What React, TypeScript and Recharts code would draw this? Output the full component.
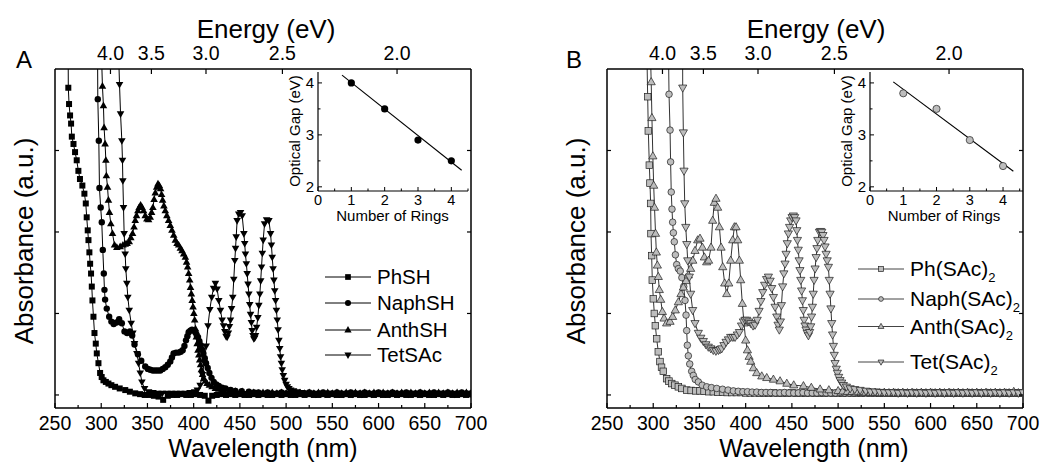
import React from 'react';
import { LineChart, Line, XAxis, YAxis } from 'recharts';

type Pt = [number, number];
type Shape = 'square' | 'circle' | 'up' | 'down';

const FONT = '"Liberation Sans", Arial, Helvetica, sans-serif';

// axis ticks
const wlTicks = [250, 275, 300, 325, 350, 375, 400, 425, 450, 475, 500, 525, 550, 575, 600, 625, 650, 675, 700];
const energyTicks = [4.0, 3.5, 3.0, 2.5, 2.0];
const absTicks = [0, 1, 2, 3];
const ringTicks = [0, 0.5, 1, 1.5, 2, 2.5, 3, 3.5, 4, 4.5];
const gapTicks = [2, 2.5, 3, 3.5, 4];

// ---- panel A spectra: [wavelength (nm), absorbance (a.u.)]
const phSH: Pt[] = [
  [264.2, 4.3], [264.4, 3.77], [265.2, 3.57], [266.3, 3.43], [267.4, 3.33], [268.2, 3.17], [270, 3.08], [271.7, 2.98],
  [273.5, 2.88], [275.3, 2.75], [277, 2.65], [279.6, 2.57], [281.8, 2.47], [283.3, 2.35], [284.3, 2.18], [285.4, 2.02],
  [286.2, 1.9], [287.2, 1.75], [288, 1.61], [289, 1.49], [289.8, 1.33], [290.5, 1.16], [291.6, 0.96], [292.7, 0.76],
  [294.1, 0.63], [295.2, 0.51], [297, 0.39], [298.8, 0.27], [300.5, 0.22], [302.4, 0.18], [305, 0.16], [307.8, 0.14],
  [311, 0.12], [315, 0.1], [320, 0.08], [326, 0.06], [331, 0.04], [336.8, 0.02], [342, 0.01], [347, 0], [352, 0],
  [357, -0.01], [362, -0.02], [367, -0.06], [372, -0.01], [377, 0], [382, 0], [387, 0.01], [392, 0], [397, 0],
  [402, 0.01], [407, 0], [412, -0.01], [416, -0.07], [420, -0.01], [425, 0], [430, 0.01], [435, 0], [440, 0.01],
  [445, 0], [450, 0.01], [455, 0], [460, 0], [465, 0.01], [470, 0], [475, 0.01], [480, 0], [485, 0], [490, 0.01],
  [495, 0], [500, 0.01], [505, 0], [510, 0], [515, 0.01], [520, 0], [525, 0.01], [530, 0], [535, 0], [540, 0.01],
  [545, 0], [550, 0.01], [555, 0], [560, 0], [565, 0.01], [570, 0], [575, 0.01], [580, 0], [585, 0], [590, 0.01],
  [595, 0], [600, 0.01], [605, 0], [610, 0], [615, 0.01], [620, 0], [625, 0.01], [630, 0], [635, 0], [640, 0.01],
  [645, 0], [650, 0.01], [655, 0], [660, 0], [665, 0.01], [670, 0], [675, 0.01], [680, 0], [685, 0], [690, 0.01],
  [695, 0], [700, 0.01],
];

const naphSH: Pt[] = [
  [296, 4.3], [296.3, 3.63], [297.4, 3.12], [298.1, 2.54], [299.4, 2.3], [300.6, 2.12], [301.7, 1.78], [302.8, 1.49],
  [303.5, 1.29], [304.2, 1.17], [306, 1.06], [308.6, 0.96], [311, 0.9], [313.5, 0.87], [316.5, 0.89], [319.4, 0.93],
  [322.3, 0.88], [325.2, 0.78], [328, 0.76], [331, 0.78], [333.5, 0.73], [336, 0.62], [339.7, 0.5], [343.3, 0.42],
  [347.6, 0.35], [350.5, 0.32], [353, 0.31], [355.8, 0.3], [358.5, 0.3], [361.2, 0.3], [363.9, 0.3], [366.5, 0.32],
  [369.3, 0.34], [372, 0.37], [374.7, 0.41], [376.5, 0.46], [378.3, 0.51], [381, 0.52], [383.8, 0.52], [386, 0.53],
  [388.1, 0.55], [390, 0.6], [391.7, 0.67], [393.2, 0.72], [394.6, 0.77], [396.4, 0.79], [398.2, 0.8], [400, 0.79],
  [401.8, 0.77], [403.2, 0.74], [404.7, 0.71], [406.2, 0.66], [407.6, 0.61], [409, 0.56], [410.5, 0.51], [412, 0.45],
  [413.4, 0.39], [415.2, 0.33], [417, 0.27], [419.3, 0.21], [421.7, 0.16], [424.5, 0.13], [427.2, 0.11], [430.8, 0.09],
  [434.4, 0.08], [440, 0.06], [445.2, 0.05], [452, 0.045], [459.7, 0.04], [465, 0.03], [470, 0.03], [475, 0.02],
  [480, 0.03], [485, 0.02], [490, 0.02], [495, 0.03], [500, 0.02], [505, 0.02], [510, 0.03], [515, 0.02], [520, 0.02],
  [525, 0.03], [530, 0.02], [535, 0.02], [540, 0.03], [545, 0.02], [550, 0.02], [555, 0.03], [560, 0.02], [565, 0.02],
  [570, 0.03], [575, 0.02], [580, 0.02], [585, 0.03], [590, 0.02], [595, 0.02], [600, 0.03], [605, 0.02], [610, 0.02],
  [615, 0.03], [620, 0.02], [625, 0.02], [630, 0.03], [635, 0.02], [640, 0.02], [645, 0.03], [650, 0.02], [655, 0.02],
  [660, 0.03], [665, 0.02], [670, 0.02], [675, 0.03], [680, 0.02], [685, 0.02], [690, 0.03], [695, 0.02], [700, 0.02],
];

const anthSH: Pt[] = [
  [300, 4.3], [301.3, 3.79], [302.4, 3.55], [303.1, 3.28], [304.2, 3.08], [305, 2.88], [305.6, 2.69], [306.8, 2.55],
  [307.8, 2.39], [308.9, 2.24], [310.4, 2.1], [312.2, 1.98], [314.4, 1.84], [316.9, 1.81], [320.5, 1.82], [323.5, 1.84],
  [325.9, 1.85], [328, 1.86], [330.3, 1.88], [332, 1.93], [333.9, 1.98], [335.5, 2.06], [336.8, 2.14], [338.2, 2.2],
  [339.7, 2.26], [341, 2.3], [342.6, 2.33], [344.2, 2.3], [345.8, 2.26], [347.6, 2.2], [349.4, 2.16], [351.2, 2.15],
  [353, 2.18], [354.5, 2.24], [355.9, 2.3], [357.2, 2.4], [358.5, 2.48], [360, 2.55], [361.4, 2.59], [362.8, 2.57],
  [364.2, 2.53], [365.3, 2.46], [366.4, 2.39], [367.8, 2.32], [369.3, 2.26], [371, 2.2], [372.9, 2.14], [374.7, 2.08],
  [376.5, 2.02], [378.4, 1.96], [380.2, 1.9], [382, 1.86], [383.8, 1.84], [385.6, 1.8], [387.4, 1.77], [389.2, 1.73],
  [391, 1.69], [392.3, 1.63], [393.5, 1.57], [394.6, 1.49], [395.7, 1.41], [396.6, 1.32], [397.5, 1.24], [398.4, 1.16],
  [399.3, 1.08], [400.2, 1], [401.1, 0.92], [402, 0.81], [402.9, 0.71], [403.8, 0.63], [404.7, 0.55], [405.6, 0.49],
  [406.5, 0.43], [407.5, 0.37], [408.4, 0.31], [409.6, 0.25], [410.9, 0.2], [412.7, 0.17], [414.5, 0.14], [417, 0.12],
  [419.9, 0.1], [423.5, 0.08], [427.2, 0.07], [432, 0.06], [438, 0.05], [445, 0.045], [452.5, 0.04], [460, 0.03],
  [465, 0.03], [470, 0.02], [475, 0.03], [480, 0.02], [485, 0.03], [490, 0.02], [495, 0.03], [500, 0.02], [505, 0.03],
  [510, 0.02], [515, 0.03], [520, 0.02], [525, 0.03], [530, 0.02], [535, 0.03], [540, 0.02], [545, 0.03], [550, 0.02],
  [555, 0.03], [560, 0.02], [565, 0.03], [570, 0.02], [575, 0.03], [580, 0.02], [585, 0.03], [590, 0.02], [595, 0.03],
  [600, 0.02], [605, 0.03], [610, 0.02], [615, 0.03], [620, 0.02], [625, 0.03], [630, 0.02], [635, 0.03], [640, 0.02],
  [645, 0.03], [650, 0.02], [655, 0.03], [660, 0.02], [665, 0.03], [670, 0.02], [675, 0.03], [680, 0.02], [685, 0.03],
  [690, 0.02], [695, 0.03], [700, 0.02],
];

const tetSAc: Pt[] = [
  [318.5, 4.3], [319.8, 3.81], [320.9, 3.45], [322.3, 3.12], [323, 2.88], [323.4, 2.63], [324.1, 2.3], [324.8, 1.98],
  [325.9, 1.73], [326.6, 1.55], [327.7, 1.37], [328.8, 1.2], [330.3, 1.04], [332.4, 0.88], [334.2, 0.76], [336, 0.63],
  [338.6, 0.51], [340.4, 0.39], [342.2, 0.27], [344, 0.16], [346.9, 0.08], [351.2, 0.04], [356, 0.03], [361, 0.02],
  [366, 0.02], [371, 0.02], [376, 0.02], [381, 0.02], [386, 0.02], [391, 0.02], [396, 0.03], [401, 0.04], [404, 0.06],
  [407, 0.12], [409.5, 0.25], [411.5, 0.4], [413.5, 0.6], [415.5, 0.85], [417.5, 1.05], [419.5, 1.2], [421.5, 1.31],
  [423.5, 1.37], [425.4, 1.3], [427.2, 1.16], [429, 1.04], [430.8, 0.92], [432.3, 0.85], [433.7, 0.78], [435, 0.72],
  [436.2, 0.71], [437.5, 0.76], [438.7, 0.84], [439.8, 0.92], [441, 1.06], [442.3, 1.2], [443.4, 1.42], [444.5, 1.65],
  [445.3, 1.8], [446, 1.94], [447, 2.14], [448.8, 2.22], [450.7, 2.24], [452.5, 2.2], [454.3, 1.98], [455.2, 1.86],
  [456, 1.73], [457, 1.61], [457.9, 1.49], [458.8, 1.36], [459.7, 1.24], [460.6, 1.11], [461.5, 0.99], [462.4, 0.89],
  [463.3, 0.79], [464.2, 0.73], [465.1, 0.69], [466, 0.7], [466.9, 0.73], [468.1, 0.83], [469.4, 0.95], [470.5, 1.1],
  [471.6, 1.24], [472.5, 1.4], [473.4, 1.57], [474.3, 1.74], [475.2, 1.9], [476.7, 2.1], [478.9, 2.15], [481.4, 2.14],
  [483.2, 1.98], [484.1, 1.84], [485, 1.69], [485.9, 1.55], [486.8, 1.41], [487.7, 1.28], [488.6, 1.16], [489.5, 1.04],
  [490.4, 0.92], [491.3, 0.8], [492.2, 0.67], [493.1, 0.57], [494, 0.47], [494.9, 0.39], [495.8, 0.31], [497, 0.24],
  [498.4, 0.18], [500, 0.13], [501.3, 0.1], [503, 0.08], [504.9, 0.06], [508, 0.05], [512, 0.04], [517, 0.03],
  [522, 0.02], [527, 0.02], [532, 0.01], [537, 0.02], [542, 0.01], [547, 0.02], [552, 0.01], [557, 0.02], [562, 0.01],
  [567, 0.02], [572, 0.01], [577, 0.02], [582, 0.01], [587, 0.02], [592, 0.01], [597, 0.02], [602, 0.01], [607, 0.02],
  [612, 0.01], [617, 0.02], [622, 0.01], [627, 0.02], [632, 0.01], [637, 0.02], [642, 0.01], [647, 0.02], [652, 0.01],
  [657, 0.02], [662, 0.01], [667, 0.02], [672, 0.01], [677, 0.02], [682, 0.01], [687, 0.02], [692, 0.01], [697, 0.02],
  [700, 0.01],
];

// ---- panel B spectra
const phSAc2: Pt[] = [
  [293, 4.3], [294, 3.66], [294.7, 3.24], [295.8, 2.82], [296.5, 2.6], [297.2, 2.35], [297.6, 1.98], [298.3, 1.71],
  [299, 1.41], [300.1, 1.18], [301.2, 1], [302.3, 0.85], [303.7, 0.69], [305.5, 0.53], [307.3, 0.41], [309, 0.34],
  [310.9, 0.29], [314.5, 0.2], [317, 0.17], [320, 0.14], [323.5, 0.12], [327.2, 0.1], [331, 0.08], [336.2, 0.06],
  [341, 0.055], [346, 0.05], [350.6, 0.05], [355, 0.045], [360, 0.04], [365, 0.04], [370, 0.035], [375, 0.035],
  [380, 0.03], [385, 0.03], [390, 0.03], [395, 0.03], [400, 0.025], [405, 0.025], [410, 0.025], [415, 0.02],
  [420, 0.02], [425, 0.02], [430, 0.025], [435, 0.02], [440, 0.02], [445, 0.02], [450, 0.025], [455, 0.02],
  [460, 0.02], [465, 0.02], [470, 0.025], [475, 0.02], [480, 0.02], [485, 0.02], [490, 0.025], [495, 0.02],
  [500, 0.02], [505, 0.02], [510, 0.025], [515, 0.02], [520, 0.02], [525, 0.02], [530, 0.025], [535, 0.02],
  [540, 0.02], [545, 0.02], [550, 0.025], [555, 0.02], [560, 0.02], [565, 0.02], [570, 0.025], [575, 0.02],
  [580, 0.02], [585, 0.02], [590, 0.025], [595, 0.02], [600, 0.02], [605, 0.02], [610, 0.025], [615, 0.02],
  [620, 0.02], [625, 0.02], [630, 0.025], [635, 0.02], [640, 0.02], [645, 0.02], [650, 0.025], [655, 0.02],
  [660, 0.02], [665, 0.02], [670, 0.025], [675, 0.02], [680, 0.02], [685, 0.02], [690, 0.025], [695, 0.02], [700, 0.02],
];

const naphSAc2: Pt[] = [
  [316.4, 4.3], [317.1, 3.69], [318.2, 3.25], [318.8, 2.86], [319.5, 2.49], [320.3, 2.28], [321, 2.12], [321.8, 1.99],
  [322.8, 1.88], [324, 1.72], [325.4, 1.6], [327.2, 1.55], [329.2, 1.52], [331, 1.44], [333, 1.33], [334.4, 1.16],
  [335.5, 0.98], [336.2, 0.79], [336.9, 0.61], [338, 0.48], [339.5, 0.38], [341.6, 0.29], [343.4, 0.24], [345.5, 0.19],
  [348.8, 0.16], [353, 0.12], [357.9, 0.1], [363, 0.09], [368.7, 0.08], [375, 0.07], [381, 0.06], [386.7, 0.05],
  [392, 0.045], [397, 0.04], [402, 0.04], [407, 0.035], [412, 0.035], [417, 0.03], [422, 0.03], [427, 0.03],
  [432, 0.025], [437, 0.025], [442, 0.03], [447, 0.025], [452, 0.025], [457, 0.025], [462, 0.03], [467, 0.025],
  [472, 0.025], [477, 0.025], [482, 0.03], [487, 0.025], [492, 0.025], [497, 0.025], [502, 0.03], [507, 0.025],
  [512, 0.025], [517, 0.025], [522, 0.03], [527, 0.025], [532, 0.025], [537, 0.025], [542, 0.03], [547, 0.025],
  [552, 0.025], [557, 0.025], [562, 0.03], [567, 0.025], [572, 0.025], [577, 0.025], [582, 0.03], [587, 0.025],
  [592, 0.025], [597, 0.025], [602, 0.03], [607, 0.025], [612, 0.025], [617, 0.025], [622, 0.03], [627, 0.025],
  [632, 0.025], [637, 0.025], [642, 0.03], [647, 0.025], [652, 0.025], [657, 0.025], [662, 0.03], [667, 0.025],
  [672, 0.025], [677, 0.025], [682, 0.03], [687, 0.025], [692, 0.025], [697, 0.025], [700, 0.03],
];

const anthSAc2: Pt[] = [
  [296.8, 4.3], [297.8, 3.84], [298.6, 3.4], [299.6, 2.93], [300.5, 2.57], [301.4, 2.3], [302.5, 1.98], [303.4, 1.75],
  [304.5, 1.59], [305.5, 1.45], [306.6, 1.29], [308.1, 1.17], [309.9, 1.02], [311.7, 0.94], [314.5, 0.88], [318.2, 0.9],
  [321, 0.96], [323.9, 1.04], [327.2, 1.14], [330, 1.24], [332.6, 1.32], [335.5, 1.4], [338, 1.47], [340.5, 1.55],
  [342.8, 1.65], [345.2, 1.77], [348.1, 1.9], [350.6, 1.92], [353.2, 1.81], [355.3, 1.69], [357.8, 1.63], [359.9, 1.65],
  [362.5, 1.81], [364.3, 2.14], [366.1, 2.36], [367.9, 2.41], [369.7, 2.3], [371.6, 2.06], [373.4, 1.81], [375.2, 1.57],
  [377.3, 1.37], [379.5, 1.24], [381.7, 1.37], [383.8, 1.65], [386, 1.9], [387.8, 2.06], [389.6, 2.06], [391.4, 1.9],
  [393.2, 1.65], [394.6, 1.41], [396.4, 1.12], [398.2, 0.88], [400, 0.67], [401.9, 0.55], [403.7, 0.47], [405.5, 0.41],
  [408.3, 0.33], [411.9, 0.27], [417.4, 0.23], [422.8, 0.21], [430, 0.19], [437.2, 0.17], [444.5, 0.14], [452, 0.12],
  [462.5, 0.11], [471, 0.09], [480.5, 0.07], [490, 0.06], [500, 0.05], [505, 0.045], [510, 0.04], [515, 0.04],
  [520, 0.035], [525, 0.035], [530, 0.03], [535, 0.03], [540, 0.03], [545, 0.025], [550, 0.03], [555, 0.025],
  [560, 0.03], [565, 0.025], [570, 0.03], [575, 0.025], [580, 0.03], [585, 0.025], [590, 0.03], [595, 0.025],
  [600, 0.03], [605, 0.025], [610, 0.03], [615, 0.025], [620, 0.03], [625, 0.025], [630, 0.03], [635, 0.025],
  [640, 0.03], [645, 0.025], [650, 0.03], [655, 0.025], [660, 0.03], [665, 0.025], [670, 0.03], [675, 0.025],
  [680, 0.03], [685, 0.025], [690, 0.04], [695, 0.025], [700, 0.03],
];

const tetSAc2: Pt[] = [
  [331.8, 4.3], [331.9, 3.77], [332.6, 3.22], [333.3, 2.75], [334.1, 2.35], [335.2, 2.06], [336.3, 1.85], [337.3, 1.65],
  [339.1, 1.45], [340.5, 1.24], [342.7, 1.04], [345.2, 0.88], [348.8, 0.76], [351.5, 0.7], [354.2, 0.66], [357, 0.62],
  [359.6, 0.59], [362.3, 0.57], [365, 0.55], [367.8, 0.54], [370.5, 0.55], [372.3, 0.56], [374.1, 0.57], [376.5, 0.61],
  [378.8, 0.65], [381.3, 0.68], [383.8, 0.71], [386.2, 0.71], [388.5, 0.71], [391, 0.74], [393.2, 0.77], [395.5, 0.85],
  [397.5, 0.9], [399.3, 0.92], [401.1, 0.92], [403.3, 0.9], [405.5, 0.88], [408, 0.85], [410.1, 0.86], [412.5, 0.92],
  [414.5, 1.03], [416.5, 1.15], [418.5, 1.26], [420.5, 1.35], [422.6, 1.42], [424.6, 1.45], [426.5, 1.4], [428.2, 1.31],
  [430, 1.2], [431.8, 1.08], [433.6, 0.96], [435, 0.86], [436.4, 0.8], [437.6, 0.9], [438.7, 1.1], [440, 1.33],
  [441.3, 1.49], [442.6, 1.61], [443.7, 1.73], [445, 1.86], [446.2, 1.98], [447.5, 2.06], [448.7, 2.14], [450.2, 2.18],
  [451.6, 2.2], [453, 2.18], [454.5, 2.14], [455.3, 2.02], [456, 1.9], [456.9, 1.78], [457.8, 1.65], [458.7, 1.53],
  [459.6, 1.41], [460.5, 1.28], [461.4, 1.16], [462.3, 1.04], [463.2, 0.92], [464.2, 0.85], [465.3, 0.8], [466.6, 0.76],
  [467.9, 0.73], [469.2, 0.77], [470.4, 0.84], [471.3, 0.96], [472.2, 1.08], [473.1, 1.24], [474, 1.41], [475.1, 1.55],
  [476.2, 1.69], [477.1, 1.8], [478, 1.9], [479.8, 2], [481, 2.01], [482.3, 2], [483.6, 1.96], [484.8, 1.9],
  [485.9, 1.82], [487, 1.73], [488.2, 1.65], [489.5, 1.57], [490.4, 1.41], [491.3, 1.24], [492.2, 1.06], [493.1, 0.88],
  [494, 0.74], [494.9, 0.6], [495.8, 0.49], [496.7, 0.39], [498, 0.32], [499.2, 0.27], [500.6, 0.22], [502.1, 0.18],
  [503.9, 0.15], [505.7, 0.12], [509, 0.1], [513, 0.08], [518, 0.07], [523.8, 0.06], [530, 0.05], [535, 0.04],
  [540, 0.04], [545, 0.035], [550, 0.03], [555, 0.03], [560, 0.03], [565, 0.025], [570, 0.03], [575, 0.025],
  [580, 0.03], [585, 0.025], [590, 0.03], [595, 0.025], [600, 0.03], [605, 0.025], [610, 0.03], [615, 0.025],
  [620, 0.03], [625, 0.025], [630, 0.03], [635, 0.025], [640, 0.03], [645, 0.025], [650, 0.03], [655, 0.025],
  [660, 0.03], [665, 0.025], [670, 0.03], [675, 0.025], [680, 0.03], [685, 0.025], [690, 0.03], [695, 0.025], [700, 0.03],
];

// ---- insets: optical gap (eV) vs number of rings
const rings = [1, 2, 3, 4];
const gapA = [4.0, 3.5, 2.9, 2.5];
const gapB = [3.8, 3.5, 2.9, 2.4];
const fitA: Pt[] = [[0.72, 4.15], [4.31, 2.32]];
const fitB: Pt[] = [[0.7, 4.02], [4.31, 2.3]];

type Look = {
  fill: string;
  stroke: string;
  sw: number;
  line: string;
  size: Record<Shape, number>;
};

const lookA: Look = {
  fill: '#000',
  stroke: '#000',
  sw: 0,
  line: '#000',
  size: { square: 6, circle: 6.4, up: 7.6, down: 7.6 },
};

const lookB: Look = {
  fill: '#bdbdbd',
  stroke: '#1e1e1e',
  sw: 0.7,
  line: '#333',
  size: { square: 6.6, circle: 6.6, up: 8.2, down: 8.2 },
};

type Series = { name: string; data: Pt[]; shape: Shape };

const seriesA: Series[] = [
  { name: 'PhSH', data: phSH, shape: 'square' },
  { name: 'NaphSH', data: naphSH, shape: 'circle' },
  { name: 'AnthSH', data: anthSH, shape: 'up' },
  { name: 'TetSAc', data: tetSAc, shape: 'down' },
];

const seriesB: Series[] = [
  { name: 'Ph(SAc)', data: phSAc2, shape: 'square' },
  { name: 'Naph(SAc)', data: naphSAc2, shape: 'circle' },
  { name: 'Anth(SAc)', data: anthSAc2, shape: 'up' },
  { name: 'Tet(SAc)', data: tetSAc2, shape: 'down' },
];

function marker(shape: Shape, cx: number, cy: number, size: number, fill: string, stroke: string, sw: number) {
  const h = size / 2;
  if (shape === 'square') {
    return <rect x={cx - h} y={cy - h} width={size} height={size} fill={fill} stroke={stroke} strokeWidth={sw} />;
  }
  if (shape === 'circle') {
    return <circle cx={cx} cy={cy} r={h} fill={fill} stroke={stroke} strokeWidth={sw} />;
  }
  const t = size * 0.87;
  const pts =
    shape === 'up'
      ? `${cx},${cy - t * 0.62} ${cx - h},${cy + t * 0.38} ${cx + h},${cy + t * 0.38}`
      : `${cx},${cy + t * 0.62} ${cx - h},${cy - t * 0.38} ${cx + h},${cy - t * 0.38}`;
  return <polygon points={pts} fill={fill} stroke={stroke} strokeWidth={sw} />;
}

const bottomTick = (p: any) => {
  const v = p.payload.value;
  const major = v % 50 === 0;
  return (
    <g>
      <line x1={p.x} x2={p.x} y1={p.y} y2={p.y - (major ? 5 : 3)} stroke="#000" strokeWidth={1.2} />
      {major && (
        <text x={p.x} y={p.y + 22} textAnchor="middle" fontSize={19.5} fontFamily={FONT} fill="#000">
          {v}
        </text>
      )}
    </g>
  );
};

const topTick = (p: any) => {
  const e = 1240 / p.payload.value;
  return (
    <g>
      <line x1={p.x} x2={p.x} y1={p.y} y2={p.y + 5} stroke="#000" strokeWidth={1.2} />
      <text x={p.x} y={p.y - 9} textAnchor="middle" fontSize={19.5} fontFamily={FONT} fill="#000">
        {e.toFixed(1)}
      </text>
    </g>
  );
};

const leftTick = (p: any) => <line x1={p.x} x2={p.x + 4} y1={p.y} y2={p.y} stroke="#000" strokeWidth={1.2} />;
const rightTick = (p: any) => <line x1={p.x} x2={p.x - 4} y1={p.y} y2={p.y} stroke="#000" strokeWidth={1.2} />;

const insetBottomTick = (p: any) => {
  const v = p.payload.value;
  const major = Number.isInteger(v);
  return (
    <g>
      <line x1={p.x} x2={p.x} y1={p.y} y2={p.y - (major ? 4 : 2.5)} stroke="#000" strokeWidth={1} />
      {major && (
        <text x={p.x} y={p.y + 13.5} textAnchor="middle" fontSize={14.5} fontFamily={FONT} fill="#000">
          {v}
        </text>
      )}
    </g>
  );
};

const insetLeftTick = (p: any) => {
  const v = p.payload.value;
  const major = Number.isInteger(v);
  return (
    <g>
      <line x1={p.x} x2={p.x + (major ? 4 : 2.5)} y1={p.y} y2={p.y} stroke="#000" strokeWidth={1} />
      {major && (
        <text x={p.x - 4} y={p.y + 5.5} textAnchor="end" fontSize={15} fontFamily={FONT} fill="#000">
          {v}
        </text>
      )}
    </g>
  );
};

const axisStroke = { stroke: '#000', strokeWidth: 1.5 };

function SpectrumPanel({ left, width, series, look }: { left: number; width: number; series: Series[]; look: Look }) {
  return (
    <div style={{ position: 'absolute', left, top: 0 }}>
      <LineChart width={width} height={463} margin={{ top: 39, right: width - 481, bottom: 25, left: 45 }}>
        <XAxis
          xAxisId="bottom"
          type="number"
          dataKey="wl"
          domain={[250, 700]}
          allowDataOverflow
          ticks={wlTicks}
          interval={0}
          height={30}
          tickSize={0}
          tickMargin={0}
          tickLine={false}
          tick={bottomTick}
          axisLine={axisStroke}
        />
        <XAxis
          xAxisId="top"
          orientation="top"
          type="number"
          dataKey="wl"
          domain={[250, 700]}
          allowDataOverflow
          ticks={energyTicks.map((e) => 1240 / e)}
          interval={0}
          height={30}
          tickSize={0}
          tickMargin={0}
          tickLine={false}
          tick={topTick}
          axisLine={axisStroke}
        />
        <YAxis
          yAxisId="left"
          domain={[-0.16, 4]}
          allowDataOverflow
          ticks={absTicks}
          interval={0}
          width={10}
          tickSize={0}
          tickMargin={0}
          tickLine={false}
          tick={leftTick}
          axisLine={axisStroke}
        />
        <YAxis
          yAxisId="right"
          orientation="right"
          domain={[-0.16, 4]}
          allowDataOverflow
          ticks={absTicks}
          interval={0}
          width={10}
          tickSize={0}
          tickMargin={0}
          tickLine={false}
          tick={rightTick}
          axisLine={axisStroke}
        />
        {/* the energy scale shares the wavelength data; this copy is invisible */}
        <Line
          xAxisId="top"
          yAxisId="right"
          data={series[0].data.map(([wl, a]) => ({ wl, a }))}
          dataKey="a"
          stroke="none"
          dot={false}
          activeDot={false}
          isAnimationActive={false}
        />
        {series.map((s) => (
          <Line
            key={s.name}
            xAxisId="bottom"
            yAxisId="left"
            data={s.data.map(([wl, a]) => ({ wl, a }))}
            dataKey="a"
            stroke={look.line}
            strokeWidth={1}
            isAnimationActive={false}
            activeDot={false}
            dot={(p: any) => (
              <g key={`${s.name}-${p.index}`}>
                {p.value > 4 || p.cx == null
                  ? null
                  : marker(s.shape, p.cx, p.cy, look.size[s.shape], look.fill, look.stroke, look.sw)}
              </g>
            )}
          />
        ))}
      </LineChart>
    </div>
  );
}

function GapInset({
  left,
  rightPad,
  xMax,
  gap,
  fit,
  look,
}: {
  left: number;
  rightPad: number;
  xMax: number;
  gap: number[];
  fit: Pt[];
  look: Look;
}) {
  const pts = rings.map((r, i) => ({ x: r, y: gap[i] }));
  const fitRows = fit.map(([x, y]) => ({ x, y }));
  const frame = { stroke: '#000', strokeWidth: 1.2 };
  return (
    <div style={{ position: 'absolute', left, top: 50 }}>
      <LineChart width={210} height={180} margin={{ top: 22, right: rightPad, bottom: 9, left: 18 }}>
        <XAxis
          xAxisId="b"
          type="number"
          dataKey="x"
          domain={[0, xMax]}
          allowDataOverflow
          ticks={ringTicks}
          interval={0}
          height={30}
          tickSize={0}
          tickMargin={0}
          tickLine={false}
          tick={insetBottomTick}
          axisLine={frame}
        />
        <XAxis xAxisId="t" orientation="top" type="number" domain={[0, xMax]} allowDataOverflow height={0} tick={false} tickLine={false} axisLine={frame} />
        <YAxis
          yAxisId="l"
          domain={[1.92, 4.21]}
          allowDataOverflow
          ticks={gapTicks}
          interval={0}
          width={30}
          tickSize={0}
          tickMargin={0}
          tickLine={false}
          tick={insetLeftTick}
          axisLine={frame}
        />
        <YAxis yAxisId="r" orientation="right" domain={[1.92, 4.21]} allowDataOverflow width={0} tick={false} tickLine={false} axisLine={frame} />
        <Line xAxisId="b" yAxisId="l" data={fitRows} dataKey="y" stroke="#000" strokeWidth={1.1} dot={false} activeDot={false} isAnimationActive={false} />
        <Line
          xAxisId="b"
          yAxisId="l"
          data={pts}
          dataKey="y"
          stroke="none"
          activeDot={false}
          isAnimationActive={false}
          dot={(p: any) => (
            <circle key={`g-${p.index}`} cx={p.cx} cy={p.cy} r={3.6} fill={look.fill} stroke={look.stroke} strokeWidth={look.sw || 0} />
          )}
        />
      </LineChart>
    </div>
  );
}

function Legend({ x, rows, series, look, fontSize, sub }: { x: number; rows: number[]; series: Series[]; look: Look; fontSize: number; sub: boolean }) {
  return (
    <g>
      {series.map((s, i) => {
        const y = rows[i];
        const sz = look.size[s.shape] * (sub ? 0.72 : 0.95);
        return (
          <g key={s.name}>
            <line x1={x} x2={x + 46} y1={y} y2={y} stroke={sub ? '#444' : '#000'} strokeWidth={1} />
            {marker(s.shape, x + 23, y, sz, look.fill, look.stroke, look.sw)}
            <text x={x + 52} y={y + 7.3} fontSize={fontSize} fontFamily={FONT} fill="#000">
              {s.name}
              {sub && (
                <tspan fontSize={13} dy={6}>
                  2
                </tspan>
              )}
            </text>
          </g>
        );
      })}
    </g>
  );
}

export default function App() {
  const title = { fontFamily: FONT, fill: '#000' };
  return (
    <div style={{ position: 'absolute', left: 0, top: 0, width: 1042, height: 463, overflow: 'hidden', background: '#fff' }}>
      <SpectrumPanel left={0} width={520} series={seriesA} look={lookA} />
      <SpectrumPanel left={552} width={490} series={seriesB} look={lookB} />
      <GapInset left={270} rightPad={12} xMax={4.5} gap={gapA} fit={fitA} look={lookA} />
      <GapInset left={822} rightPad={9} xMax={4.6} gap={gapB} fit={fitB} look={lookB} />
      <svg width={1042} height={463} style={{ position: 'absolute', left: 0, top: 0, pointerEvents: 'none' }}>
        {/* panel A text */}
        <text x={16} y={68} fontSize={24} {...title}>A</text>
        <text x={266} y={38} fontSize={26} textAnchor="middle" {...title}>Energy (eV)</text>
        <text x={263} y={457} fontSize={25} textAnchor="middle" {...title}>Wavelength (nm)</text>
        <text transform="translate(33,241) rotate(-90)" fontSize={26} textAnchor="middle" {...title}>Absorbance (a.u.)</text>
        <text transform="translate(300,131) rotate(-90)" fontSize={15} textAnchor="middle" {...title}>Optical Gap (eV)</text>
        <text x={392.5} y={221} fontSize={15} textAnchor="middle" {...title}>Number of Rings</text>
        <Legend x={325} rows={[277, 303, 330, 355]} series={seriesA} look={lookA} fontSize={20.5} sub={false} />

        {/* panel B text */}
        <text x={566} y={68} fontSize={24} {...title}>B</text>
        <text x={816} y={38} fontSize={26} textAnchor="middle" {...title}>Energy (eV)</text>
        <text x={814} y={457} fontSize={25} textAnchor="middle" {...title}>Wavelength (nm)</text>
        <text transform="translate(585,241) rotate(-90)" fontSize={26} textAnchor="middle" {...title}>Absorbance (a.u.)</text>
        <text transform="translate(852,131) rotate(-90)" fontSize={15} textAnchor="middle" {...title}>Optical Gap (eV)</text>
        <text x={944} y={221} fontSize={15} textAnchor="middle" {...title}>Number of Rings</text>
        <Legend x={858} rows={[269, 299, 326.5, 362]} series={seriesB} look={lookB} fontSize={21} sub />
      </svg>
    </div>
  );
}
